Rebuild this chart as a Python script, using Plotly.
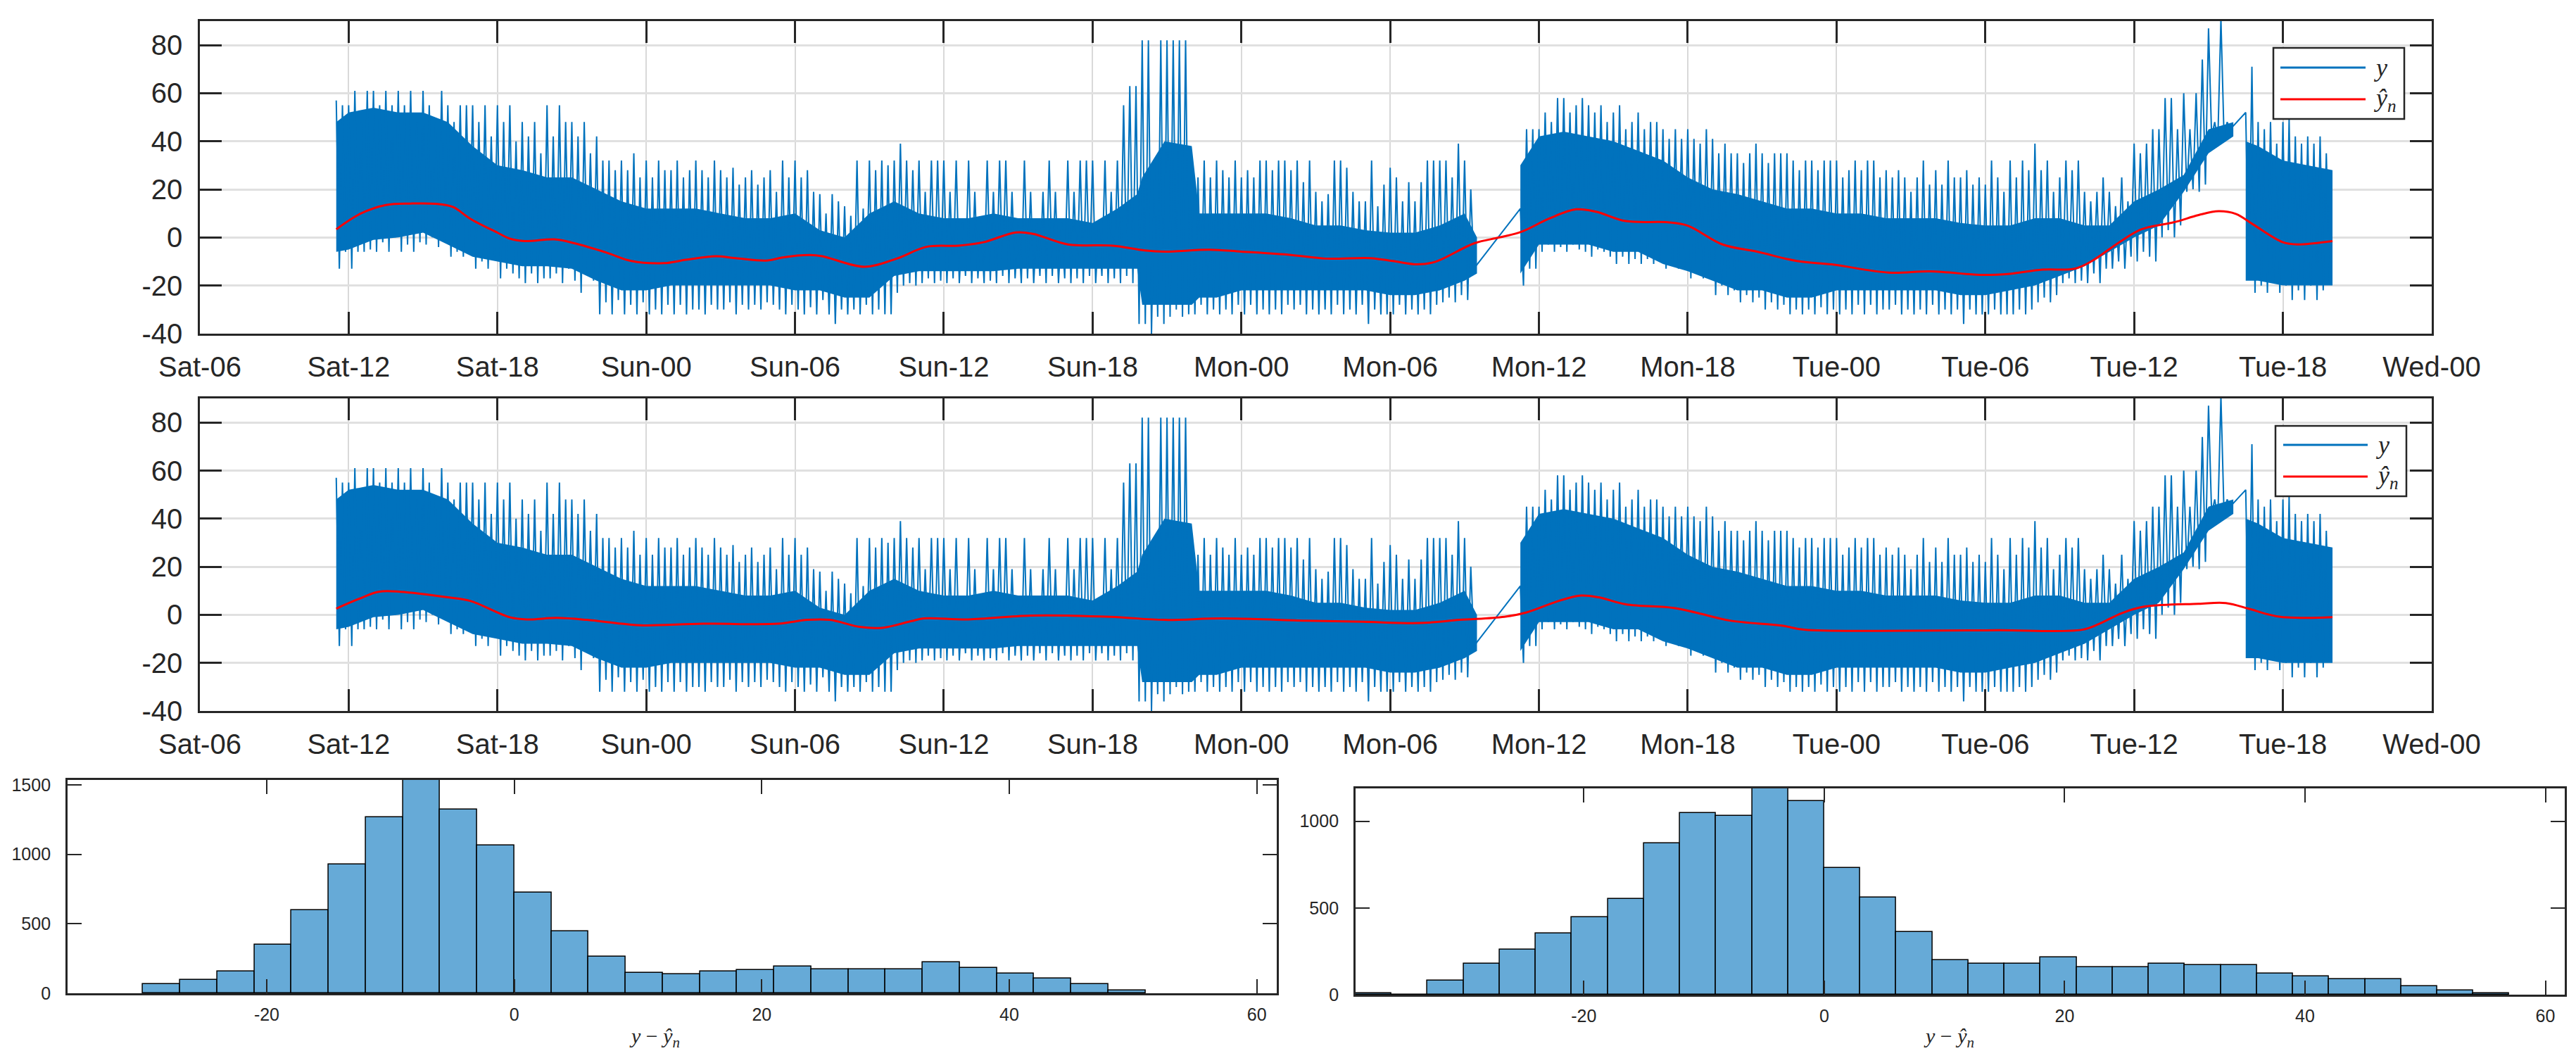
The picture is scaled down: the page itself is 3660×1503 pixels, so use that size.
import pandas as pd
import plotly.graph_objects as go

# ------------------------------------------------------------------
# DATA
# ------------------------------------------------------------------
BASE = pd.Timestamp('2018-06-02 06:00')  # a Saturday, 06:00 -> "Sat-06"

# time-axis tick labels (every 6 h from Sat-06 to Wed-00)
time_tick_labels = ['Sat-06', 'Sat-12', 'Sat-18', 'Sun-00', 'Sun-06', 'Sun-12', 'Sun-18',
                    'Mon-00', 'Mon-06', 'Mon-12', 'Mon-18', 'Tue-00', 'Tue-06', 'Tue-12',
                    'Tue-18', 'Wed-00']
y_tick_vals = [-40, -20, 0, 20, 40, 60, 80]
y_tick_text = ['-40', '-20', '0', '20', '40', '60', '80']

# ---- measured signal y: upward and downward excursions every 15 min
# (hours counted from Sat-06). Segment A starts at h=5.5
peaks_A = [57, 55,
           55, 61, 48, 61,  61, 55, 61, 55,  61, 55, 61, 48,  61, 55, 48, 61,
           55, 48, 55, 55,  55, 48, 55, 42,  55, 48, 55, 40,  48, 42, 48, 35,
           55, 42, 55, 48,  48, 42, 48, 35,  42, 32, 32, 28,  32, 28, 35, 25,
           32, 25, 32, 28,  28, 32, 25, 28,  32, 28, 25, 32,  28, 25, 29, 22,
           25, 28, 22, 25,  28, 19, 32, 25,  32, 25, 28, 19,  18, 10, 18, 15,
           13, 9, 32, 12,   32, 28, 32, 30,  32, 39, 32, 28,  32, 19, 32, 32,
           32, 19, 32, 6,   32, 19, 6, 32,   19, 32, 32, 19,  6, 32, 19, 6,
           19, 32, 19, 6,   32, 19, 32, 32,  32, 6, 32, 19,   32, 55, 63, 63,
           82, 82, 32, 82,  82, 82, 82, 82,  32, 25, 32, 25,  32, 28, 25, 32,
           25, 28, 25, 32,  32, 28, 32, 32,  28, 32, 23, 32,  19, 15, 18, 32,
           32, 29, 19, 15,  15, 32, 13, 22,  29, 25, 15, 23,  15, 23, 32, 32,
           32, 32, 25, 39,
           32, 20]
dips_A = [-13, -6,
          -13, -6, -6, -5,  -6, -2, -6, 0,  -6, -3, -6, -2,  -3, 0, -4, -2,
          -8, -6, -8, -3,  -13, -10, -13, -8,  -17, -13, -15, -17,  -19, -15, -19, -17,
          -17, -15, -19, -13,  -18, -23, -15, -18,  -32, -27, -32, -26,  -32, -28, -32, -27,
          -32, -30, -32, -28,  -32, -28, -32, -30,  -30, -32, -28, -30,  -30, -27, -32, -28,
          -30, -28, -30, -27,  -28, -30, -32, -28,  -30, -32, -29, -32,  -26, -32, -36, -30,
          -32, -30, -32, -28,  -32, -30, -32, -32,  -23, -20, -19, -20,  -19, -17, -19, -18,
          -19, -17, -19, -16,  -19, -17, -19, -18,  -19, -16, -19, -17,  -19, -17, -19, -16,
          -19, -16, -19, -17,  -19, -17, -19, -16,  -19, -16, -19, -17,  -19, -16, -19, -36,
          -36, -40, -33, -36,  -33, -30, -33, -32,  -32, -28, -32, -30,  -32, -30, -32, -28,
          -32, -28, -32, -30,  -32, -30, -32, -28,  -30, -28, -32, -30,  -32, -30, -32, -28,
          -32, -30, -32, -28,  -36, -30, -32, -32,  -32, -28, -32, -30,  -32, -30, -32, -28,
          -27, -25, -27, -24,
          -26, -13]
start_A = 5.5

# Segment B (after the data gap on Monday morning) starts at h=53.25
peaks_B = [12, 45, 45,
           45, 52, 48, 58,  58, 52, 55, 58,  55, 52, 55, 48,  52, 55, 45, 48,
           52, 45, 48, 48,  45, 41, 45, 41,  45, 41, 39, 45,  41, 35, 39, 35,
           35, 31, 35, 39,  35, 31, 35, 35,  35, 32, 28, 32,  32, 28, 32, 32,
           32, 25, 28, 32,  28, 32, 32, 25,  28, 25, 28, 25,  19, 25, 32, 22,
           28, 22, 32, 25,  25, 28, 22, 25,  22, 32, 25, 19,  32, 25, 32, 28,
           39, 28, 32, 19,  25, 32, 28, 32,  19, 15, 19, 25,  19, 13, 25, 15,
           39, 35, 39, 45,  45, 58, 58, 45,  60, 45, 60, 74,  87, 48, 91, 48]
dips_B = [-20, -13, -13,
          -6, -3, -6, -4,  -6, -3, -5, -6,  -8, -5, -6, -8,  -11, -8, -11, -9,
          -11, -9, -11, -10,  -13, -11, -13, -12,  -17, -15, -17, -16,  -24, -20, -24, -22,
          -27, -24, -27, -25,  -30, -27, -30, -28,  -32, -30, -32, -30,  -32, -29, -32, -30,
          -32, -30, -32, -28,  -32, -28, -32, -30,  -30, -28, -32, -30,  -32, -30, -32, -28,
          -32, -30, -32, -30,  -36, -30, -32, -32,  -32, -30, -32, -32,  -32, -30, -32, -30,
          -27, -25, -27, -24,  -19, -17, -19, -18,  -19, -15, -19, -13,  -13, -10, -13, -8,
          -10, -6, -8, -10,  0, 3, 0, 5,  19, 20, 19, 22,  42, 40, 42, 45]
start_B = 53.25

# Segment C (after the short gap on Tuesday afternoon) starts at h=82.5
peaks_C = [52, 71, 48, 45, 48, 39, 48, 49, 42, 39, 42, 39, 42, 35]
dips_C = [-16, -23, -20, -23, -18, -23, -20, -26, -22, -26, -20, -26, -22, -18]
start_C = 82.5

# dense core of the signal (upper / lower edge of the solid band)
core_h_A = [5.5, 6, 7, 8, 9, 10, 11, 12, 13, 14, 15, 16, 17, 18, 19, 20, 21, 22, 23, 24,
            25, 26, 27, 28, 29, 30, 31, 32, 33, 34, 35, 36, 37, 37.8, 38, 38.9, 40, 40.3, 41,
            42, 43, 44, 45, 46, 47, 48, 49, 50, 51, 51.5]
core_hi_A = [48, 52, 54, 52, 52, 48, 38, 30, 28, 25, 25, 20, 15, 12, 12, 12, 10, 8, 8, 10,
             3, 0, 10, 15, 10, 8, 8, 10, 8, 8, 8, 6, 12, 18, 25, 40, 38, 10, 10,
             10, 10, 8, 5, 5, 3, 2, 2, 5, 10, 0]
core_lo_A = [-6, -5, -1, 0, 2, -3, -8, -10, -12, -12, -13, -18, -22, -22, -20, -20, -20, -20, -20, -22,
             -22, -25, -25, -16, -14, -14, -14, -14, -13, -13, -13, -13, -13, -13, -28, -28, -28, -25, -25,
             -22, -22, -22, -22, -22, -22, -24, -24, -22, -18, -15]
core_h_B = [53.25, 54, 55, 56, 57, 58, 59, 60, 61, 62, 63, 64, 65, 66, 67, 68, 69, 70, 71,
            72, 73, 74, 75, 76, 77, 78, 79, 80, 81, 82]
core_hi_B = [30, 42, 44, 42, 40, 36, 32, 25, 20, 18, 15, 12, 12, 10, 10, 8, 8, 8, 6,
             5, 5, 8, 8, 5, 5, 15, 20, 26, 45, 48]
core_lo_B = [-15, -3, -3, -3, -6, -6, -11, -14, -18, -22, -22, -25, -25, -22, -22, -22, -22, -22, -24,
             -24, -22, -20, -16, -12, -6, 0, 5, 19, 35, 42]
core_h_C = [82.5, 83, 84, 85, 86]
core_hi_C = [40, 38, 32, 30, 28]
core_lo_C = [-18, -18, -20, -20, -20]

# smooth estimate y_hat_n, top panel
red1_h = [5.5, 6.5, 7.5, 8.5, 9.5, 10.2, 10.9, 12, 12.5, 13.1, 14.3, 15.1, 16.4, 17.4, 18.7,
          19.6, 20.8, 21.6, 22.9, 23.5, 24.6, 25.1, 26.8, 28.1, 29.3, 30.6, 31.6, 32.9, 33.6,
          35, 36.8, 38.1, 38.9, 40.7, 42, 44, 45.4, 47.2, 48.1, 49.1, 49.8, 51.4, 52.4, 53.3,
          54.4, 55.5, 56.3, 57.5, 59.2, 60, 61.4, 62.8, 64.4, 65.8, 68.1, 69.8, 71.9, 73,
          74.3, 75.6, 76.3, 77.4, 78.3, 79.6, 80.6, 81.4, 82.1, 82.8, 84, 84.6, 86]
red1_v = [3.4, 10, 13.5, 14.1, 14, 12.7, 7.8, 2, -0.5, -1.5, -0.8, -2.4, -6.3, -9.8, -10.7,
          -9.3, -7.8, -8.6, -9.6, -8.3, -7.3, -7.8, -12.2, -8.8, -3.9, -3.4, -2, 2.1, 1.5,
          -2.9, -3.4, -5.4, -5.9, -5.1, -5.9, -7.3, -8.8, -8.6, -9.8, -11.2, -10.2, -2.4, 0, 2.4,
          7.8, 11.7, 10.7, 6.8, 6.3, 4.9, -2.9, -5.9, -9.8, -11.2, -14.6, -14.1, -15.6, -15.1,
          -13.4, -13, -9.8, -2, 3.4, 6.3, 9.3, 10.9, 9.8, 5.4, -2, -2.9, -1.5]

# smooth estimate y_hat_n, middle panel
red2_h = [5.5, 6.5, 7.2, 8.1, 10, 10.9, 12.5, 13.2, 14.4, 15.6, 17, 17.9, 20.3, 23.3, 24.5,
          25.4, 26.6, 27.5, 28.7, 29.2, 31, 33.5, 36.7, 38.9, 41.2, 44.6, 46.9, 49.2, 50.8,
          52.6, 53.5, 54.8, 55.7, 56.4, 57.5, 59.4, 60.3, 61.7, 63.8, 64.7, 68.9, 72.5, 75.9,
          76.6, 77.5, 78.4, 80.6, 81.7, 82.6, 83.4, 84, 86]
red2_v = [2.6, 7, 9.6, 9.6, 7.3, 5.8, -1, -1.9, -1.3, -2.1, -3.7, -4.4, -3.7, -3.7, -2.1,
          -2.1, -5, -5.4, -2.6, -1.5, -1.9, -0.3, -0.8, -2.1, -1.5, -2.4, -2.9, -3.4, -2.1,
          -0.8, 1, 5.8, 8, 7.3, 4.4, 2.9, 1, -2.4, -4.5, -6.2, -6.6, -6.4, -6.2,
          -3.7, 0.7, 3.4, 4.6, 4.9, 2.6, 0.2, -1, -1]

# histograms of the residual y - y_hat_n (bin width 3)
hist1_left = [-30, -27, -24, -21, -18, -15, -12, -9, -6, -3, 0, 3, 6, 9, 12, 15, 18, 21, 24,
              27, 30, 33, 36, 39, 42, 45, 48]
hist1_count = [64, 96, 159, 351, 595, 924, 1265, 1534, 1321, 1062, 723, 444, 265, 149, 139,
               159, 169, 191, 171, 171, 171, 223, 181, 140, 105, 64, 22]
hist2_left = [-39, -36, -33, -30, -27, -24, -21, -18, -15, -12, -9, -6, -3, 0, 3, 6, 9, 12,
              15, 18, 21, 24, 27, 30, 33, 36, 39, 42, 45, 48, 51, 54]
hist2_count = [7, 0, 81, 178, 261, 353, 445, 550, 874, 1047, 1031, 1189, 1114, 732, 558, 361,
               197, 178, 178, 214, 157, 157, 180, 172, 172, 122, 104, 88, 88, 47, 23, 7]
hist_tick_vals = [-20, 0, 20, 40, 60]
hist_tick_text = ['-20', '0', '20', '40', '60']
BIN_W = 3

LBL_Y = '<i>y</i>'
LBL_YHAT = '<i>ŷ</i><sub><i>n</i></sub>'
LBL_RESID = '<i>y</i> − <i>ŷ</i><sub><i>n</i></sub>'

# ------------------------------------------------------------------
# helpers
# ------------------------------------------------------------------
def to_time(hours):
    return [BASE + pd.Timedelta(hours=float(h)) for h in hours]


def zigzag(start, peaks, dips):
    hs, vs = [], []
    for i, (p, d) in enumerate(zip(peaks, dips)):
        hs += [start + 0.25 * i, start + 0.25 * i + 0.125]
        vs += [p, d]
    return hs, vs


zh, zv = [], []
for s, p, d in [(start_A, peaks_A, dips_A), (start_B, peaks_B, dips_B), (start_C, peaks_C, dips_C)]:
    h, v = zigzag(s, p, d)
    zh += h
    zv += v
y_time = to_time(zh)

BLUE = '#0072BD'
RED = '#FF0000'
TXT = '#262626'
FONT = 'Liberation Sans, Arial, sans-serif'
SERIF = 'Liberation Serif, serif'
W, H = 3660, 1503

fig = go.Figure()

for xa, ya, red_h, red_v in [('x', 'y', red1_h, red1_v), ('x2', 'y2', red2_h, red2_v)]:
    for ch, chi, clo in [(core_h_A, core_hi_A, core_lo_A),
                         (core_h_B, core_hi_B, core_lo_B),
                         (core_h_C, core_hi_C, core_lo_C)]:
        t = to_time(ch)
        fig.add_trace(go.Scatter(x=t + t[::-1], y=chi + clo[::-1], fill='toself',
                                 fillcolor=BLUE, line=dict(width=0), mode='lines',
                                 hoverinfo='skip', showlegend=False, xaxis=xa, yaxis=ya))
    fig.add_trace(go.Scatter(x=y_time, y=zv, mode='lines', line=dict(color=BLUE, width=2),
                             name=LBL_Y, showlegend=False, xaxis=xa, yaxis=ya))
    fig.add_trace(go.Scatter(x=to_time(red_h), y=red_v, mode='lines', line_shape='spline',
                             line=dict(color=RED, width=3),
                             name=LBL_YHAT, showlegend=False, xaxis=xa, yaxis=ya))

HIST_FILL = '#66AAD7'
fig.add_trace(go.Bar(x=[l + BIN_W / 2 for l in hist1_left], y=hist1_count, width=BIN_W,
                     marker=dict(color=HIST_FILL, line=dict(color='black', width=1.5)),
                     showlegend=False, xaxis='x3', yaxis='y3'))
fig.add_trace(go.Bar(x=[l + BIN_W / 2 for l in hist2_left], y=hist2_count, width=BIN_W,
                     marker=dict(color=HIST_FILL, line=dict(color='black', width=1.5)),
                     showlegend=False, xaxis='x4', yaxis='y4'))

time_tick_vals = [BASE + pd.Timedelta(hours=6 * i) for i in range(len(time_tick_labels))]
t_range = [BASE, BASE + pd.Timedelta(hours=90)]

def time_xaxis(anchor):
    return dict(domain=[0.0754, 0.9418], anchor=anchor, type='date', range=t_range,
                tickvals=time_tick_vals, ticktext=time_tick_labels, automargin=False,
                showgrid=True, gridcolor='#d9d9d9', gridwidth=1.5,
                showline=True, linecolor=TXT, linewidth=2.5, mirror='ticks',
                ticks='inside', ticklen=31, tickwidth=2.5, tickcolor=TXT, ticklabelstandoff=10,
                tickfont=dict(family=FONT, size=40, color=TXT), zeroline=False)

def time_yaxis(dom, anchor):
    return dict(domain=dom, anchor=anchor, range=[-40, 90], tickvals=y_tick_vals,
                ticktext=y_tick_text, showgrid=True, gridcolor='#e0e0e0', gridwidth=3,
                automargin=False,
                showline=True, linecolor=TXT, linewidth=2.5, mirror='ticks',
                ticks='inside', ticklen=31, tickwidth=2.5, tickcolor=TXT, ticklabelstandoff=14,
                tickfont=dict(family=FONT, size=40, color=TXT), zeroline=False)

def hist_xaxis(dom, anchor, rng):
    return dict(domain=dom, anchor=anchor, range=rng, tickvals=hist_tick_vals,
                ticktext=hist_tick_text, showgrid=False, zeroline=False, automargin=False,
                showline=True, linecolor=TXT, linewidth=2.5, mirror='ticks',
                ticks='inside', ticklen=20, tickwidth=2, tickcolor=TXT, ticklabelstandoff=6,
                tickfont=dict(family=FONT, size=25, color=TXT))

def hist_yaxis(dom, anchor, rng, vals):
    return dict(domain=dom, anchor=anchor, range=rng, tickvals=vals,
                ticktext=[str(v) for v in vals], showgrid=False, zeroline=False,
                automargin=False,
                showline=True, linecolor=TXT, linewidth=2.5, mirror='ticks',
                ticks='inside', ticklen=20, tickwidth=2, tickcolor=TXT, ticklabelstandoff=16,
                tickfont=dict(family=FONT, size=25, color=TXT))

# ---- legends drawn as boxes in paper coordinates (pixel layout / W,H)
def px(x):
    return x / W

def py(y):
    return 1 - y / H

shapes, annotations = [], []
for (bx0, by0, bx1, by1, lx0, lx1, ly1, ly2) in [
        (3222, 60, 3408, 161, 3232, 3353, 88, 133),
        (3225, 597, 3411, 697, 3236, 3356, 624, 669)]:
    shapes.append(dict(type='rect', xref='paper', yref='paper', x0=px(bx0), x1=px(bx1),
                       y0=py(by1), y1=py(by0), fillcolor='white',
                       line=dict(color=TXT, width=2.5), layer='above'))
    shapes.append(dict(type='line', xref='paper', yref='paper', x0=px(lx0), x1=px(lx1),
                       y0=py(ly1), y1=py(ly1), line=dict(color=BLUE, width=3), layer='above'))
    shapes.append(dict(type='line', xref='paper', yref='paper', x0=px(lx0), x1=px(lx1),
                       y0=py(ly2), y1=py(ly2), line=dict(color=RED, width=3), layer='above'))
    annotations.append(dict(xref='paper', yref='paper', x=px(lx1 + 10), y=py(ly1),
                            xanchor='left', yanchor='middle', text=LBL_Y, showarrow=False,
                            font=dict(family=SERIF, size=36, color=TXT)))
    annotations.append(dict(xref='paper', yref='paper', x=px(lx1 + 10), y=py(ly2),
                            xanchor='left', yanchor='middle', text=LBL_YHAT, showarrow=False,
                            font=dict(family=SERIF, size=36, color=TXT)))

# histogram x-axis labels
for cx in (922, 2761):
    annotations.append(dict(xref='paper', yref='paper', x=px(cx), y=py(1466),
                            xanchor='center', yanchor='middle', text=LBL_RESID, showarrow=False,
                            font=dict(family=SERIF, size=30, color=TXT)))

fig.update_layout(
    width=W, height=H, autosize=False,
    margin=dict(l=0, r=0, t=0, b=0, pad=0),
    paper_bgcolor='white', plot_bgcolor='white',
    xaxis=time_xaxis('y'),
    yaxis=time_yaxis([0.690, 0.9854], 'x'),
    xaxis2=time_xaxis('y2'),
    yaxis2=time_yaxis([0.3333, 0.6287], 'x2'),
    xaxis3=hist_xaxis([0.024, 0.4934], 'y3', [-36.1, 61.6]),
    yaxis3=hist_yaxis([0.0665, 0.2681], 'x3', [0, 1534], [0, 500, 1000, 1500]),
    xaxis4=hist_xaxis([0.524, 0.9934], 'y4', [-39, 61.6]),
    yaxis4=hist_yaxis([0.0652, 0.2601], 'x4', [0, 1189], [0, 500, 1000]),
    shapes=shapes,
    annotations=annotations,
    showlegend=False,
    bargap=0,
)

fig.write_html('out.html')
